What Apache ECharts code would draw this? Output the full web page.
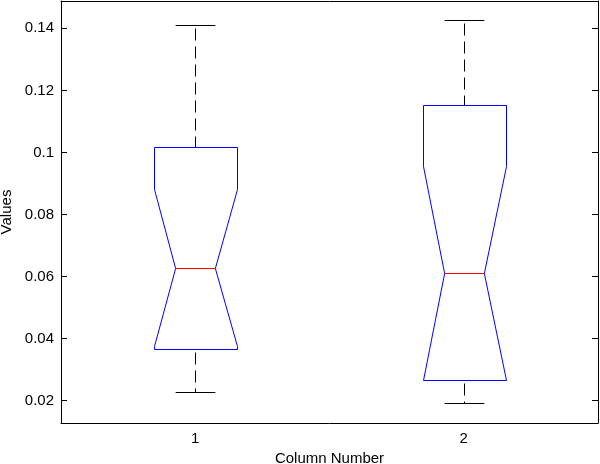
<!DOCTYPE html>
<html>
<head>
<meta charset="utf-8">
<script src="https://cdn.jsdelivr.net/npm/echarts@6/dist/echarts.min.js"></script>
<style>
  html, body { margin: 0; padding: 0; background: #fff; }
  #chart { width: 600px; height: 464px; }
</style>
</head>
<body>
<div id="chart"></div>
<script>
// values
const categories = ['1', '2'];
const lowerWhisker = [0.0227, 0.0191];
const q1 = [0.0367, 0.0265];
const notchLow = [0.0377, 0.0268];
const median = [0.0629, 0.0612];
const notchHigh = [0.0881, 0.0956];
const q3 = [0.1019, 0.1154];
const upperWhisker = [0.1412, 0.1428];
const yTicks = [0.02, 0.04, 0.06, 0.08, 0.1, 0.12, 0.14];

const yMin = 0.0128;
const yMax = 0.1488;
const font = 'Liberation Sans, Arial, sans-serif';

const boxData = categories.map((c, i) => [
  i, lowerWhisker[i], q1[i], notchLow[i], median[i], notchHigh[i], q3[i], upperWhisker[i],
]);

function renderBox(params, api) {
  const idx = api.value(0);
  const band = api.size([1, 0])[0];
  const half = band * 0.153;
  const notch = band * 0.074;
  const cap = band * 0.074;
  const pt = v => api.coord([idx, v]);
  // snap the centre to a pixel middle so 1px lines stay crisp
  const cx = Math.round(pt(api.value(4))[0]) + 0.5;
  const y = k => Math.round(pt(api.value(k))[1]) + 0.5;
  const yLw = y(1), yQ1 = y(2), yNl = y(3), yMed = y(4), yNh = y(5), yQ3 = y(6), yUw = y(7);
  const black = { stroke: '#000', lineWidth: 1 };
  const dashed = { stroke: '#000', lineWidth: 1, lineDash: [12, 6] };
  const L = Math.round(cx - half) + 0.5, R = Math.round(cx + half) + 0.5;
  return {
    type: 'group',
    children: [
      { type: 'line', shape: { x1: cx, y1: yUw + 3, x2: cx, y2: yQ3 }, style: dashed },
      { type: 'line', shape: { x1: cx, y1: yQ1 + 3, x2: cx, y2: yLw }, style: dashed },
      { type: 'line', shape: { x1: cx - cap, y1: yUw, x2: cx + cap, y2: yUw }, style: black },
      { type: 'line', shape: { x1: cx - cap, y1: yLw, x2: cx + cap, y2: yLw }, style: black },
      {
        type: 'polygon',
        shape: {
          points: [
            [L, yQ3], [R, yQ3], [R, yNh], [cx + notch, yMed],
            [R, yNl], [R, yQ1], [L, yQ1], [L, yNl],
            [cx - notch, yMed], [L, yNh],
          ],
        },
        style: { fill: null, stroke: '#0000ff', lineWidth: 1 },
      },
      { type: 'line', shape: { x1: cx - notch, y1: yMed, x2: cx + notch, y2: yMed }, style: { stroke: '#ff0000', lineWidth: 1 } },
    ],
  };
}

const chart = echarts.init(document.getElementById('chart'));
chart.setOption({
  animation: false,
  backgroundColor: '#fff',
  grid: { left: 61, right: 2, top: 1, bottom: 41, containLabel: false, outerBoundsMode: 'none' },
  xAxis: [{
    type: 'category',
    data: categories,
    boundaryGap: true,
    position: 'bottom',
    name: 'Column Number',
    nameLocation: 'middle',
    nameGap: 27,
    nameTextStyle: { color: '#000', fontSize: 15, fontFamily: font },
    axisLine: { lineStyle: { color: '#000', width: 1 } },
    axisTick: { inside: true, length: 6, alignWithLabel: true, lineStyle: { color: '#000' } },
    axisLabel: { color: '#000', fontSize: 15, fontFamily: font, margin: 8 },
    splitLine: { show: false },
  }, {
    type: 'category',
    data: categories,
    boundaryGap: true,
    position: 'top',
    axisLine: { lineStyle: { color: '#000', width: 1 } },
    axisTick: { inside: true, length: 6, alignWithLabel: true, lineStyle: { color: '#000' } },
    axisLabel: { show: false },
    splitLine: { show: false },
  }],
  yAxis: [{
    type: 'value',
    min: yMin,
    max: yMax,
    position: 'left',
    name: 'Values',
    nameLocation: 'middle',
    nameGap: 47,
    nameTextStyle: { color: '#000', fontSize: 15, fontFamily: font },
    axisLine: { show: true, lineStyle: { color: '#000', width: 1 } },
    axisTick: { show: true, inside: true, length: 6, customValues: yTicks, lineStyle: { color: '#000' } },
    axisLabel: { color: '#000', fontSize: 15, fontFamily: font, margin: 7, customValues: yTicks },
    splitLine: { show: false },
  }, {
    type: 'value',
    min: yMin,
    max: yMax,
    position: 'right',
    axisLine: { show: true, lineStyle: { color: '#000', width: 1 } },
    axisTick: { show: true, inside: true, length: 6, customValues: yTicks, lineStyle: { color: '#000' } },
    axisLabel: { show: false },
    splitLine: { show: false },
  }],
  series: [{
    type: 'custom',
    xAxisIndex: 0,
    yAxisIndex: 0,
    renderItem: renderBox,
    encode: { x: 0, y: [1, 2, 3, 4, 5, 6, 7] },
    data: boxData,
  }],
});
</script>
</body>
</html>
